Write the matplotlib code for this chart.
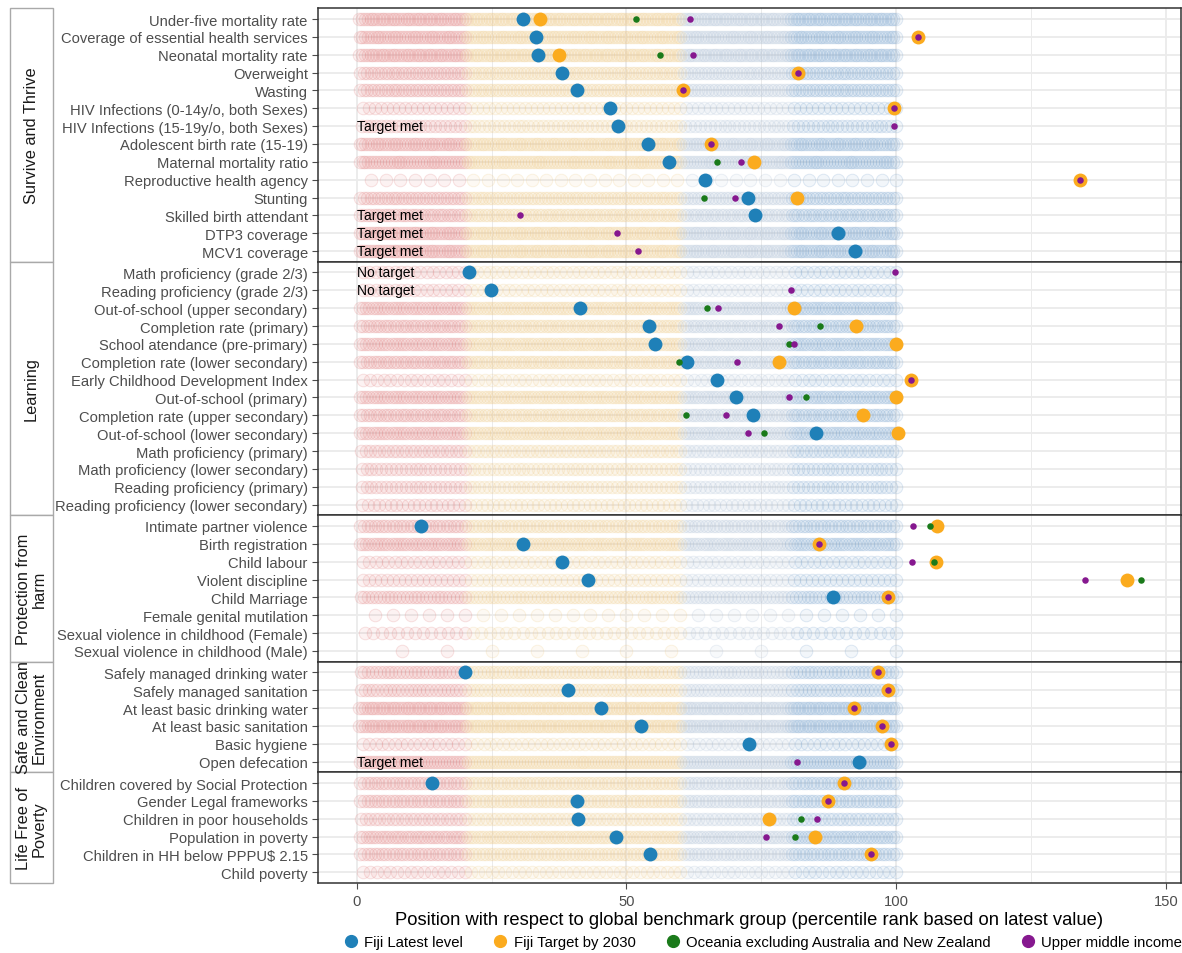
import numpy as np
import matplotlib
matplotlib.use('Agg')
import matplotlib.pyplot as plt
from matplotlib.lines import Line2D
from matplotlib.patches import Rectangle

plt.rcParams['font.family'] = ['Liberation Sans', 'DejaVu Sans']

groups = ['Survive and Thrive', 'Learning', 'Protection from\nharm',
          'Safe and Clean\nEnvironment', 'Life Free of\nPoverty']

indicators = [
    ['Under-five mortality rate', 'Coverage of essential health services', 'Neonatal mortality rate',
     'Overweight', 'Wasting', 'HIV Infections (0-14y/o, both Sexes)',
     'HIV Infections (15-19y/o, both Sexes)', 'Adolescent birth rate (15-19)',
     'Maternal mortality ratio', 'Reproductive health agency', 'Stunting',
     'Skilled birth attendant', 'DTP3 coverage', 'MCV1 coverage'],
    ['Math proficiency (grade 2/3)', 'Reading proficiency (grade 2/3)', 'Out-of-school (upper secondary)',
     'Completion rate (primary)', 'School atendance (pre-primary)', 'Completion rate (lower secondary)',
     'Early Childhood Development Index', 'Out-of-school (primary)', 'Completion rate (upper secondary)',
     'Out-of-school (lower secondary)', 'Math proficiency (primary)', 'Math proficiency (lower secondary)',
     'Reading proficiency (primary)', 'Reading proficiency (lower secondary)'],
    ['Intimate partner violence', 'Birth registration', 'Child labour', 'Violent discipline',
     'Child Marriage', 'Female genital mutilation', 'Sexual violence in childhood (Female)',
     'Sexual violence in childhood (Male)'],
    ['Safely managed drinking water', 'Safely managed sanitation', 'At least basic drinking water',
     'At least basic sanitation', 'Basic hygiene', 'Open defecation'],
    ['Children covered by Social Protection', 'Gender Legal frameworks', 'Children in poor households',
     'Population in poverty', 'Children in HH below PPPU$ 2.15', 'Child poverty'],
]

# number of countries in the benchmark group for each indicator
n_countries = [
    [195, 190, 195, 155, 155, 90, 110, 190, 185, 37, 155, 160, 190, 190],
    [85, 85, 170, 160, 170, 160, 80, 170, 160, 170, 120, 110, 110, 95],
    [150, 170, 85, 90, 140, 30, 65, 12],
    [140, 130, 195, 195, 85, 180],
    [150, 150, 120, 165, 150, 80],
]

N = None
fiji_latest = [
    [30.9, 33.3, 33.6, 38.0, 40.9, 46.9, 48.5, 54.0, 57.8, 64.5, 72.6, 73.8, 89.3, 92.3],
    [20.8, 24.9, 41.3, 54.1, 55.3, 61.2, 66.8, 70.3, 73.4, 85.1, N, N, N, N],
    [12.0, 30.9, 38.0, 42.8, 88.2, N, N, N],
    [20.1, 39.1, 45.3, 52.7, 72.7, 93.1],
    [14.0, 40.9, 41.1, 48.1, 54.3, N],
]
fiji_target = [
    [34.0, 104.0, 37.5, 81.8, 60.4, 99.6, N, 65.7, 73.6, 134.1, 81.7, N, N, N],
    [N, N, 81.0, 92.6, 99.9, 78.2, 102.7, 99.9, 93.8, 100.3, N, N, N, N],
    [107.6, 85.6, 107.3, 142.7, 98.5, N, N, N],
    [96.7, 98.5, 92.2, 97.3, 99.0, N],
    [90.3, 87.4, 76.5, 84.9, 95.4, N],
]
oceania = [
    [51.8, N, 56.3, N, N, N, N, N, 66.8, N, 64.4, N, N, N],
    [N, N, 65.0, 85.9, 80.1, 59.8, N, 83.3, 61.0, 75.5, N, N, N, N],
    [106.3, N, 107.0, 145.4, N, N, N, N],
    [N, N, N, N, N, N],
    [N, N, 82.3, 81.2, N, N],
]
upper_middle = [
    [61.7, 104.0, 62.3, 81.8, 60.4, 99.6, 99.6, 65.7, 71.3, 134.1, 70.2, 30.3, 48.2, 52.1],
    [99.7, 80.5, 66.9, 78.2, 81.1, 70.5, 102.7, 80.1, 68.4, 72.5, N, N, N, N],
    [103.2, 85.6, 103.0, 135.0, 98.5, N, N, N],
    [96.7, 98.5, 92.2, 97.3, 99.0, 81.6],
    [90.3, 87.4, 85.4, 75.9, 95.4, N],
]
notes = [
    ['', '', '', '', '', '', 'Target met', '', '', '', '', 'Target met', 'Target met', 'Target met'],
    ['No target', 'No target', '', '', '', '', '', '', '', '', '', '', '', ''],
    ['', '', '', '', '', '', '', ''],
    ['', '', '', '', '', 'Target met'],
    ['', '', '', '', '', ''],
]

band_edges = [20, 60, 80]
band_colors = ['#e07272', '#efc57a', '#a6bbd3', '#6c9bcb']

c_latest = '#1f80b8'
c_target = '#fbab1e'
c_oceania = '#1a7a1a'
c_umic = '#86188f'

W, H = 1182, 954
fig = plt.figure(figsize=(W / 100, H / 100), dpi=100)
heights = [len(g) + 0.2 for g in indicators]
gs = fig.add_gridspec(len(groups), 1, height_ratios=heights, hspace=0,
                      left=317.5 / W, right=1180.5 / W, top=1 - 9.3 / H, bottom=1 - 884 / H)

for gi, grp in enumerate(groups):
    ax = fig.add_subplot(gs[gi])
    labels = indicators[gi]
    nrow = len(labels)
    ax.set_xlim(-7.27, 152.7)
    ax.set_ylim(nrow - 0.4, -0.6)
    ax.set_yticks(range(nrow))
    ax.set_yticklabels(labels, fontsize=10.6, color='#4d4d4d')
    ax.set_xticks([0, 50, 100, 150])
    ax.set_xticks([25, 75, 125], minor=True)
    ax.grid(which='major', color='#ebebeb', lw=1.3, zorder=0)
    ax.grid(which='minor', axis='x', color='#ebebeb', lw=0.7, zorder=0)
    ax.set_axisbelow(True)
    ax.tick_params(axis='y', length=4, color='#4d4d4d', pad=3)
    ax.tick_params(axis='x', which='minor', length=0)
    for sp in ax.spines.values():
        sp.set_color('#333333')
        sp.set_linewidth(1.1)

    for ri in range(nrow):
        n = n_countries[gi][ri]
        pos = 100 * np.arange(1, n + 1) / n
        idx = np.searchsorted(band_edges, pos, side='left')
        for b, col in enumerate(band_colors):
            sel = pos[idx == b]
            if len(sel) == 0:
                continue
            rgb = matplotlib.colors.to_rgb(col)
            ax.scatter(sel, np.full(len(sel), ri), s=82, facecolor=rgb + (0.085,),
                       edgecolor=rgb + (0.2,), linewidth=0.7, zorder=2)
        if notes[gi][ri]:
            ax.text(0, ri, notes[gi][ri], fontsize=10, ha='left', va='center', color='black', zorder=6)

    series = [(fiji_latest, c_latest, 100), (fiji_target, c_target, 100),
              (oceania, c_oceania, 22), (upper_middle, c_umic, 22)]
    for k, (vals, col, size) in enumerate(series):
        xs = [v for v in vals[gi] if v is not None]
        ys = [r for r, v in enumerate(vals[gi]) if v is not None]
        ax.scatter(xs, ys, s=size, color=col, linewidth=0, zorder=3 + k)

    if gi < len(groups) - 1:
        ax.tick_params(axis='x', which='major', length=0, labelbottom=False)
    else:
        ax.tick_params(axis='x', which='major', length=4, color='#4d4d4d', labelsize=10.6,
                       labelcolor='#4d4d4d', pad=4)
        ax.set_xlabel('Position with respect to global benchmark group (percentile rank based on latest value)',
                      fontsize=13.2, labelpad=2)

    # facet strip on the left
    bb = ax.get_position()
    fig.patches.append(Rectangle((10 / W, bb.y0), 43 / W, bb.height, transform=fig.transFigure,
                                 facecolor='white', edgecolor='#a9a9a9', linewidth=1.0))
    fig.text(31.5 / W, bb.y0 + bb.height / 2, grp, rotation=90, ha='center', va='center',
             fontsize=11.8, color='#1a1a1a', multialignment='center', linespacing=1.0)

handles = [Line2D([], [], marker='o', ls='', ms=8.5, color=c) for c in [c_latest, c_target, c_oceania, c_umic]]
fig.legend(handles, ['Fiji Latest level', 'Fiji Target by 2030',
                     'Oceania excluding Australia and New Zealand', 'Upper middle income'],
           loc='center', bbox_to_anchor=(762 / W, 1 - 943 / H), ncol=4, frameon=False,
           fontsize=10.7, handletextpad=0.3, columnspacing=1.9, handlelength=1.2,
           borderpad=0, borderaxespad=0)

fig.savefig('out.png', dpi=100)
